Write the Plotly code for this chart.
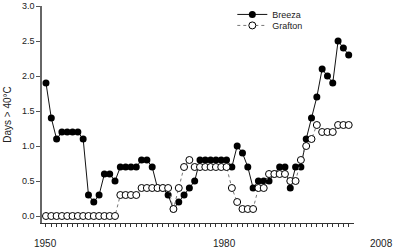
import plotly.graph_objects as go

years = list(range(1950, 2008))
breeza = [1.9, 1.4, 1.1, 1.2, 1.2, 1.2, 1.2, 1.1, 0.3, 0.2,
          0.3, 0.6, 0.6, 0.5, 0.7, 0.7, 0.7, 0.7, 0.8, 0.8,
          0.7, 0.4, 0.4, 0.3, 0.1, 0.2, 0.3, 0.4, 0.5, 0.8,
          0.8, 0.8, 0.8, 0.8, 0.8, 0.7, 1.0, 0.9, 0.7, 0.4,
          0.5, 0.5, 0.5, 0.6, 0.7, 0.7, 0.4, 0.7, 0.7, 1.1,
          1.4, 1.7, 2.1, 2.0, 1.9, 2.5, 2.4, 2.3]
grafton = [0.0] * 14 + [0.3] * 4 + [0.4] * 6 + [0.1, 0.4, 0.7, 0.8] + [0.7] * 7 + \
          [0.4, 0.2] + [0.1] * 3 + [0.4] * 2 + [0.6] * 4 + [0.5] * 2 + \
          [0.8, 1.0, 1.1, 1.3] + [1.2] * 3 + [1.3] * 3

# x tick labels as they appear in the original (label text, where it sits on the year scale)
xtick_text = ["1950", "1980", "2008"]
xtick_pos = [1950, 1983.7, 2013.1]
ytick_vals = [0.0, 0.5, 1.0, 1.5, 2.0, 2.5, 3.0]

FONT = "Liberation Sans, Arial, sans-serif"
X_RANGE = [1950 - 0.75, 2008.0]

fig = go.Figure()
fig.add_trace(go.Scatter(
    x=years, y=breeza, name="Breeza", mode="lines+markers",
    line=dict(color="#111111", width=1),
    marker=dict(symbol="circle", size=7, color="#000000", line=dict(width=0)),
    legend="legend", cliponaxis=False))
fig.add_trace(go.Scatter(
    x=years, y=grafton, name="Grafton", mode="lines+markers",
    line=dict(color="#777777", width=1, dash="dot"),
    marker=dict(symbol="circle", size=7, color="#ffffff", line=dict(width=1, color="#000000")),
    legend="legend2", cliponaxis=False))

span = X_RANGE[1] - X_RANGE[0]
for t, p in zip(xtick_text, xtick_pos):
    fig.add_annotation(x=(p - X_RANGE[0]) / span, xref="paper", y=0, yref="paper",
                       xanchor="center", yanchor="middle", yshift=-20,
                       text=t, showarrow=False, font=dict(family=FONT, size=10, color="#222222"))

fig.update_layout(
    width=397, height=249,
    margin=dict(l=42, r=43, t=6, b=26, autoexpand=False),
    paper_bgcolor="white", plot_bgcolor="white",
    font=dict(family=FONT, size=9, color="#222222"),
    showlegend=True,
    legend=dict(x=0.61, y=1.028, xanchor="left", yanchor="top", bgcolor="rgba(0,0,0,0)",
                font=dict(family=FONT, size=9, color="#222222")),
    legend2=dict(x=0.61, y=1.028 - 11 / 217, xanchor="left", yanchor="top", bgcolor="rgba(0,0,0,0)",
                 font=dict(family=FONT, size=9, color="#222222")),
)
fig.update_xaxes(
    range=X_RANGE, tickmode="array", tickvals=years, ticktext=[""] * len(years),
    ticks="outside", ticklen=3, tickwidth=1, tickcolor="#333333", automargin=False,
    showline=True, linecolor="#333333", linewidth=1, showgrid=False, zeroline=False)
fig.update_yaxes(
    range=[-0.1, 3.0], tickmode="array", tickvals=ytick_vals,
    ticktext=[f"{v:.1f}" for v in ytick_vals], automargin=False,
    ticks="outside", ticklen=4, tickwidth=1, tickcolor="#555555",
    showline=True, linecolor="#666666", linewidth=1.5, showgrid=False, zeroline=False,
    tickfont=dict(family=FONT, size=9, color="#222222"),
    title=dict(text="Days > 40°C", font=dict(family=FONT, size=10, color="#222222"), standoff=8))

fig.write_html("out.html", config={"displayModeBar": False},
               post_script="document.body.style.margin='0';document.body.style.overflow='hidden';")
